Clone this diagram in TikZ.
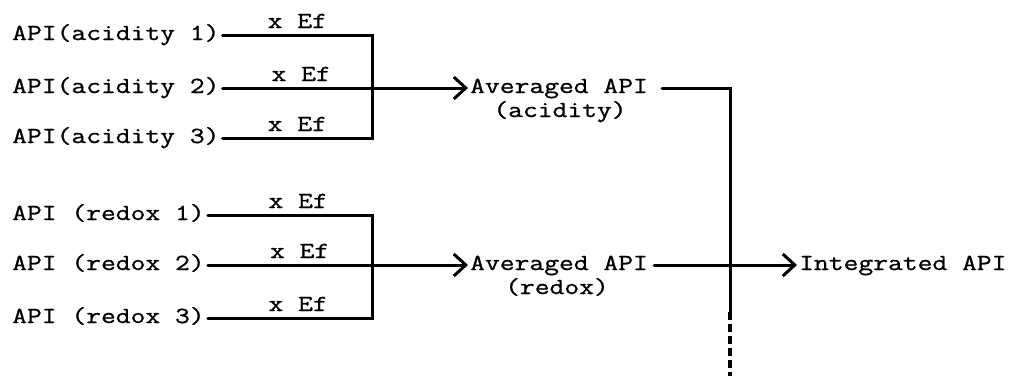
\documentclass[tikz,border=0pt]{standalone}
\usepackage{fontspec}
\newfontfamily\tw[FakeStretch=1.25,FakeBold=1]{Latin Modern Mono}
\usetikzlibrary{arrows.meta}
\begin{document}
\begin{tikzpicture}[x=1pt,y=-1pt,
  txt/.style={font=\tw\fontsize{23}{23}\selectfont, inner xsep=3pt, inner ysep=0pt, text height=10pt, text depth=0pt},
  ef/.style={font=\tw\fontsize{23}{23}\selectfont, inner sep=0pt, anchor=base, yshift=7pt},
  wire/.style={line width=3pt, line cap=round, line join=miter},
  arr/.style={wire, -{Straight Barb[length=12pt,width=22pt,line width=3pt]}},
  dashwire/.style={line width=3.4pt, dash pattern=on 8pt off 4pt}]
\useasboundingbox (0,0) rectangle (1016,376);

% left inputs
\node[txt, anchor=west] (a1) at (9,35)  {API(acidity 1)};
\node[txt, anchor=west] (a2) at (9,88)  {API(acidity 2)};
\node[txt, anchor=west] (a3) at (9,138) {API(acidity 3)};
\node[txt, anchor=west] (r1) at (9,215) {API (redox 1)};
\node[txt, anchor=west] (r2) at (9,265) {API (redox 2)};
\node[txt, anchor=west] (r3) at (9,318) {API (redox 3)};

% bar coordinates
\coordinate (barA) at (372,138);
\coordinate (barR) at (372,318);

% averaged nodes
\node[txt, anchor=west, inner xsep=2pt] (avgA) at (468,88) {Averaged API};
\node[txt, anchor=base] (avgAsub) at (560,117) {(acidity)};
\node[txt, anchor=west, inner xsep=2pt] (avgR) at (468,265) {Averaged API};
\node[txt, anchor=base] (avgRsub) at (557,294) {(redox)};

% integrated
\node[txt, anchor=west, inner xsep=2pt] (intg) at (797,265) {Integrated API};

% combining line coordinates
\coordinate (vbot) at (730,312);
\coordinate (vend) at (730,376);

% acidity group
\draw[wire] (a1.east) -- node[ef]{x Ef} (a1.east -| barA) -- (barA) -- node[ef]{x Ef} (a3.east);
\draw[arr] (a2.east) -- node[ef, pos=0.32]{x Ef} (avgA.west);

% redox group
\draw[wire] (r1.east) -- node[ef, pos=0.55]{x Ef} (r1.east -| barR) -- (barR) -- node[ef, pos=0.45]{x Ef} (r3.east);
\draw[arr] (r2.east) -- node[ef, pos=0.353]{x Ef} (avgR.west);

% to integrated
\draw[wire, shorten <=12pt] (avgA.east) -| (vbot);
\draw[dashwire] (vbot) -- (vend);
\draw[arr, shorten <=4pt] (avgR.east) -- (intg.west);
\end{tikzpicture}
\end{document}
